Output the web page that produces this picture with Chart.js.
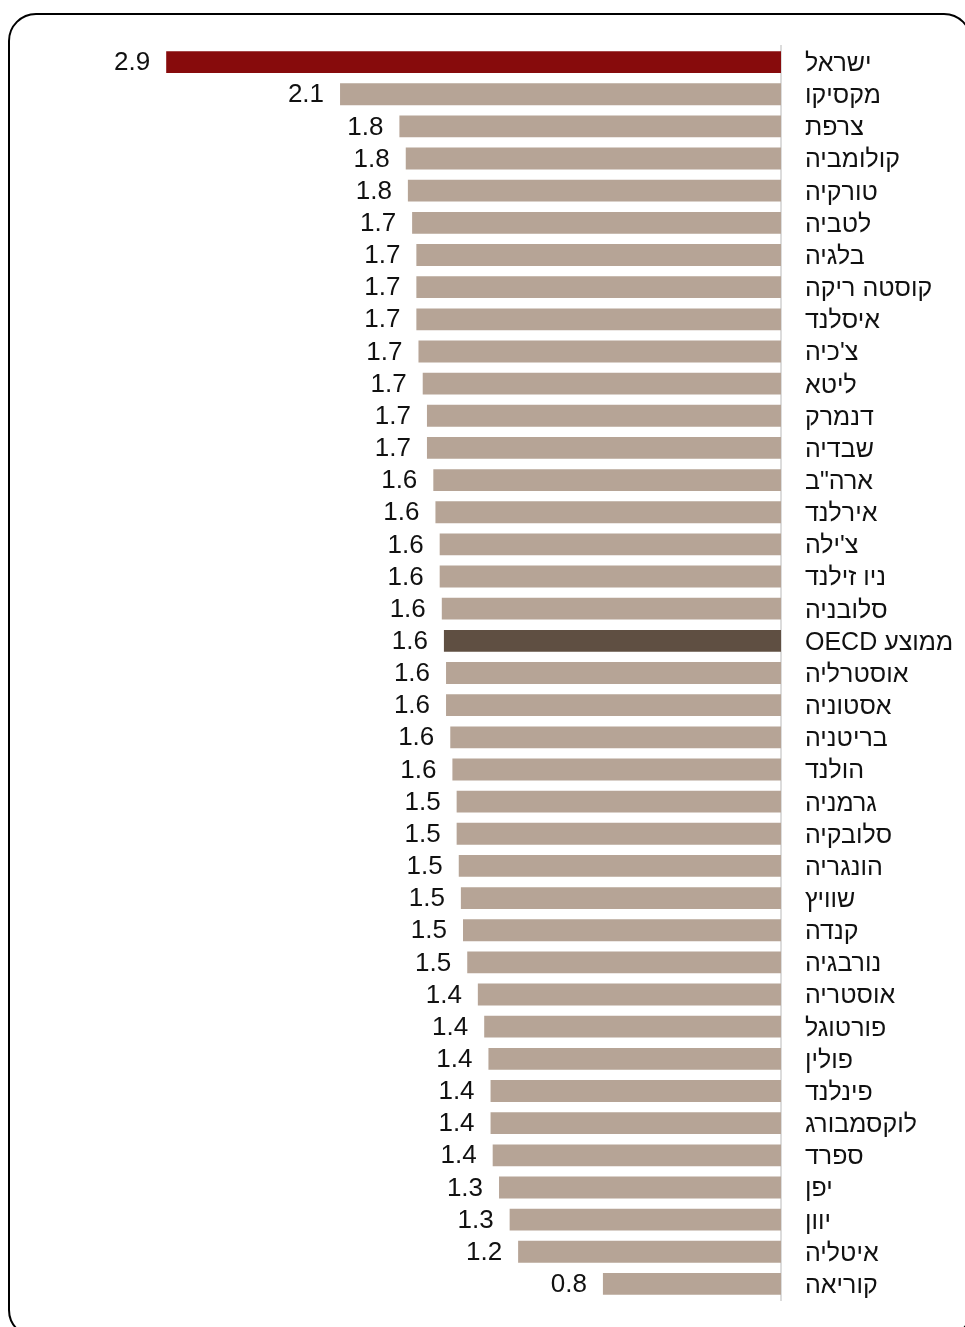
<!DOCTYPE html>
<html lang="he">
<head>
<meta charset="utf-8">
<title>Chart</title>
<script src="https://cdn.jsdelivr.net/npm/chart.js@4/dist/chart.umd.min.js"></script>
<style>
  html, body {
    margin: 0;
    padding: 0;
    background: #fff;
    overflow: hidden;
  }
  .frame {
    position: absolute;
    left: 8px;
    top: 13px;
    width: 964px;
    height: 1325px;
    box-sizing: border-box;
    border: 2px solid #000;
    border-radius: 28px;
    pointer-events: none;
  }
  .chart-wrap {
    position: absolute;
    left: 0;
    top: 0;
    width: 965px;
    height: 1327px;
  }
</style>
</head>
<body>
<div class="frame"></div>
<div class="chart-wrap">
  <canvas id="mainChart" dir="rtl"></canvas>
</div>
<script>
// Countries (top to bottom)
const countries = [
  'ישראל', 'מקסיקו', 'צרפת', 'קולומביה', 'טורקיה', 'לטביה', 'בלגיה', 'קוסטה ריקה',
  'איסלנד', "צ'כיה", 'ליטא', 'דנמרק', 'שבדיה', 'ארה"ב', 'אירלנד', "צ'ילה",
  'ניו זילנד', 'סלובניה', 'ממוצע OECD', 'אוסטרליה', 'אסטוניה', 'בריטניה', 'הולנד',
  'גרמניה', 'סלובקיה', 'הונגריה', 'שוויץ', 'קנדה', 'נורבגיה', 'אוסטריה', 'פורטוגל',
  'פולין', 'פינלנד', 'לוקסמבורג', 'ספרד', 'יפן', 'יוון', 'איטליה', 'קוריאה'
];

// Values
const values = [
  2.90, 2.08, 1.80, 1.77, 1.76, 1.74, 1.72, 1.72,
  1.72, 1.71, 1.69, 1.67, 1.67, 1.64, 1.63, 1.61,
  1.61, 1.60, 1.59, 1.58, 1.58, 1.56, 1.55,
  1.53, 1.53, 1.52, 1.51, 1.50, 1.48, 1.43, 1.40,
  1.38, 1.37, 1.37, 1.36, 1.33, 1.28, 1.24, 0.84
];

const highlightCountry = 'ישראל';
const averageCountry = 'ממוצע OECD';

const colors = {
  highlight: '#870b0c',
  average: '#5f4f42',
  bar: '#b6a496',
  axis: '#dcdcdc',
  text: '#111111'
};

const fontFamily = '"Liberation Sans", Arial, Helvetica, sans-serif';

const barColors = countries.map((c) => {
  if (c === highlightCountry) return colors.highlight;
  if (c === averageCountry) return colors.average;
  return colors.bar;
});

// Value labels at the outer (left) end of each bar
const valueLabels = {
  id: 'valueLabels',
  afterDatasetsDraw(chart) {
    const ctx = chart.ctx;
    const meta = chart.getDatasetMeta(0);
    ctx.save();
    ctx.font = '26px ' + fontFamily;
    ctx.fillStyle = colors.text;
    ctx.textAlign = 'right';
    ctx.textBaseline = 'middle';
    ctx.direction = 'ltr';
    meta.data.forEach((bar, i) => {
      ctx.fillText(values[i].toFixed(1), bar.x - 16, bar.y + 1);
    });
    ctx.restore();
  }
};

const ctx = document.getElementById('mainChart');

new Chart(ctx, {
  type: 'bar',
  data: {
    labels: countries,
    datasets: [{
      data: values,
      backgroundColor: barColors,
      borderWidth: 0,
      categoryPercentage: 1,
      barPercentage: 0.68
    }]
  },
  options: {
    indexAxis: 'y',
    responsive: true,
    maintainAspectRatio: false,
    animation: false,
    layout: {
      padding: { left: 39, top: 46, bottom: 27, right: 0 }
    },
    plugins: {
      legend: { display: false },
      tooltip: { enabled: false }
    },
    scales: {
      x: {
        display: false,
        reverse: true,
        min: 0,
        max: 3.5
      },
      y: {
        position: 'right',
        grid: {
          display: false,
          drawTicks: false
        },
        border: {
          display: true,
          color: colors.axis,
          width: 2
        },
        ticks: {
          color: colors.text,
          padding: 24,
          autoSkip: false,
          labelOffset: 2,
          font: {
            family: fontFamily,
            size: 25
          }
        },
        afterFit: (axis) => {
          axis.width = 184;
          axis.paddingTop = 0;
          axis.paddingBottom = 0;
        }
      }
    }
  },
  plugins: [valueLabels]
});
</script>
</body>
</html>
